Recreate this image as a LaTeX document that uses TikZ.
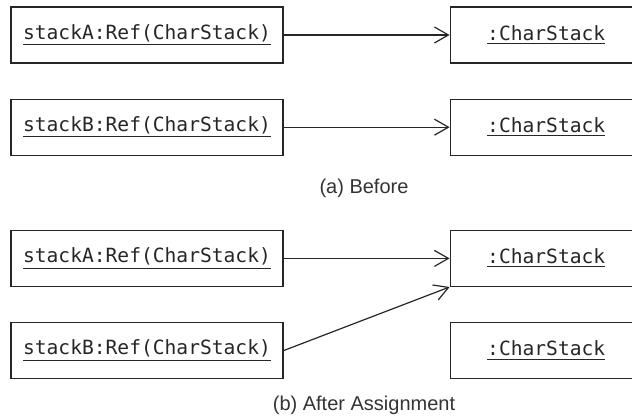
\documentclass[tikz,border=0pt]{standalone}
\usepackage{fontspec}
\setmainfont{Liberation Sans}
\setmonofont{DejaVu Sans Mono}
\usepackage{tikz}
\usetikzlibrary{
    arrows.meta,
    positioning
}

\begin{document}
\begin{tikzpicture}[
    x=0.5pt, y=-0.5pt,
    line width=0.6pt,
    draw=black!85,
    obj/.style={
        rectangle,
        draw=black!85,
        minimum width=136pt,
        minimum height=28pt,
        inner sep=0pt,
        align=center,
        text=black!85,
        font=\ttfamily\fontsize{9.8}{12}\selectfont
    },
    inst/.style={obj,minimum width=96pt},
    caption/.style={font=\fontsize{10}{12}\selectfont,text=black!80},
    arrow/.style={-{Straight Barb[length=7pt,width=8pt]},draw=black!85}
]
    \useasboundingbox (0,0) rectangle (632,416);

    % Nodes (a)
    \node[obj] (stackA) at (147,35) {\underline{stackA:Ref(CharStack)}};
    \node[obj,below=17.5pt of stackA] (stackB) {\underline{stackB:Ref(CharStack)}};
    \node[inst,right=83pt of stackA] (charA) {\underline{:CharStack}};
    \node[inst,right=83pt of stackB] (charB) {\underline{:CharStack}};
    \node[caption] (capA) at (364,188) {(a) Before};

    % Nodes (b)
    \node[obj,below=37pt of stackB] (stackAb) {\underline{stackA:Ref(CharStack)}};
    \node[obj,below=17.5pt of stackAb] (stackBb) {\underline{stackB:Ref(CharStack)}};
    \node[inst,right=83pt of stackAb] (charAb) {\underline{:CharStack}};
    \node[inst,right=83pt of stackBb] (charBb) {\underline{:CharStack}};
    \node[caption] (capB) at (364,405) {(b) After Assignment};

    % Arrows
    \draw[arrow] (stackA) -- (charA);
    \draw[arrow] (stackB) -- (charB);
    \draw[arrow] (stackAb) -- (charAb);
    \draw[arrow] (stackBb.east) -- (charAb.south west);
\end{tikzpicture}
\end{document}
